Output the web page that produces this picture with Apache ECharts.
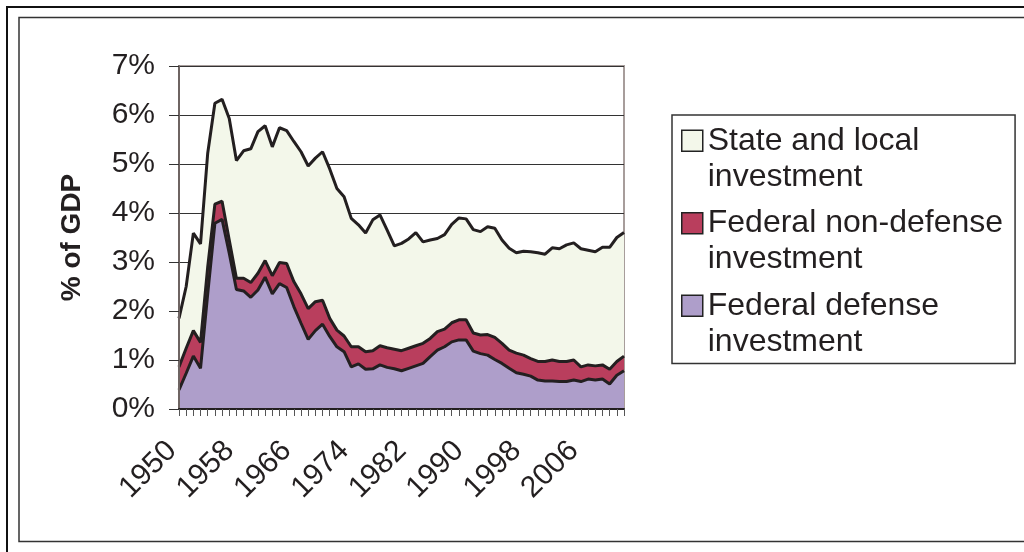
<!DOCTYPE html>
<html><head><meta charset="utf-8">
<script src="https://cdn.jsdelivr.net/npm/echarts@6/dist/echarts.min.js"></script>
<style>html,body{margin:0;padding:0;background:#fff}#c{width:1024px;height:552px}</style>
</head><body><div id="c"></div>
<script>
const years = ['1950','1951','1952','1953','1954','1955','1956','1957','1958','1959',
 '1960','1961','1962','1963','1964','1965','1966','1967','1968','1969',
 '1970','1971','1972','1973','1974','1975','1976','1977','1978','1979',
 '1980','1981','1982','1983','1984','1985','1986','1987','1988','1989',
 '1990','1991','1992','1993','1994','1995','1996','1997','1998','1999',
 '2000','2001','2002','2003','2004','2005','2006','2007','2008','2009',
 '2010','2011','2012'];
const federalDefense = [0.39,0.73,1.08,0.83,2.35,3.79,3.87,3.18,2.44,2.41,
 2.28,2.43,2.69,2.35,2.56,2.48,2.09,1.75,1.42,1.60,
 1.73,1.48,1.27,1.17,0.86,0.92,0.81,0.82,0.90,0.85,
 0.82,0.78,0.83,0.88,0.93,1.07,1.20,1.27,1.37,1.41,
 1.41,1.18,1.13,1.10,1.01,0.93,0.83,0.74,0.71,0.67,
 0.59,0.57,0.57,0.56,0.56,0.59,0.56,0.61,0.59,0.61,
 0.51,0.69,0.78];
const federalNonDefense = [0.47,0.51,0.52,0.53,0.55,0.39,0.37,0.27,0.23,0.26,
 0.30,0.34,0.34,0.37,0.43,0.49,0.51,0.60,0.63,0.59,
 0.49,0.37,0.34,0.32,0.41,0.35,0.36,0.37,0.39,0.40,
 0.40,0.41,0.41,0.41,0.41,0.37,0.38,0.36,0.39,0.41,
 0.41,0.37,0.38,0.42,0.45,0.41,0.37,0.40,0.39,0.36,
 0.38,0.40,0.43,0.41,0.41,0.41,0.30,0.29,0.29,0.29,
 0.30,0.28,0.30];
const stateLocal = [0.99,1.26,1.99,2.01,2.32,2.06,2.08,2.48,2.40,2.60,
 2.73,2.89,2.75,2.63,2.75,2.71,2.86,2.90,2.91,2.93,
 3.03,3.05,2.89,2.84,2.62,2.49,2.42,2.67,2.67,2.40,
 2.11,2.19,2.23,2.31,2.07,2.01,1.90,1.93,2.01,2.08,
 2.06,2.11,2.11,2.20,2.23,2.11,2.08,2.05,2.12,2.18,
 2.22,2.19,2.29,2.30,2.38,2.39,2.41,2.34,2.33,2.40,
 2.49,2.53,2.52];
const seriesNames = ['Federal defense investment','Federal non-defense investment','State and local investment'];
const legendLabels = {
 'State and local investment':'State and local\ninvestment',
 'Federal non-defense investment':'Federal non-defense\ninvestment',
 'Federal defense investment':'Federal defense\ninvestment'
};
const yTicks = [0,1,2,3,4,5,6,7];

const FONT = '"Liberation Sans", Arial, sans-serif';
const TXT = '#231F20';
const colors = ['#AE9ECA','#B93E5D','#F3F7EA'];
const values = [federalDefense, federalNonDefense, stateLocal];

const chart = echarts.init(document.getElementById('c'), null, {renderer:'canvas'});
chart.setOption({
 backgroundColor:'#fff',
 animation:false,
 textStyle:{fontFamily:FONT},
 graphic:[
  {type:'rect', z:-10, shape:{x:7,y:7,width:1040,height:570}, style:{fill:'none',stroke:'#111',lineWidth:2}},
  {type:'rect', z:-10, shape:{x:19,y:17.5,width:1030,height:524}, style:{fill:'none',stroke:'#333',lineWidth:1.5}}
 ],
 grid:{left:179,right:400,top:66,bottom:143,show:true,borderColor:'#a79d9b',borderWidth:2,backgroundColor:'transparent'},
 legend:{
  orient:'vertical', left:672, top:115,
  data:['State and local investment','Federal non-defense investment','Federal defense investment'],
  formatter:n=>legendLabels[n],
  icon:'path://M0,7.5H21V28.5H0Z M0,0 M0,72',
  itemWidth:21, itemHeight:72, itemGap:9,
  padding:[7,12,3,9],
  backgroundColor:'#fff', borderColor:'#333', borderWidth:1.5,
  itemStyle:{borderColor:'#222',borderWidth:1.5},
  textStyle:{fontFamily:FONT,fontSize:32,lineHeight:36,color:TXT},
  selectedMode:false
 },
 xAxis:{
  type:'category', data:years, boundaryGap:false, z:10,
  axisLine:{lineStyle:{color:TXT,width:2}},
  axisTick:{show:true,interval:0,length:7,lineStyle:{color:'#555',width:1}},
  axisLabel:{interval:7,rotate:45,margin:30,padding:[0,10,0,0],fontSize:30,color:TXT,fontFamily:FONT},
  splitLine:{show:false}
 },
 yAxis:[{
  type:'value', min:yTicks[0], max:yTicks[yTicks.length-1], interval:1, z:10,
  name:'% of GDP', nameLocation:'middle', nameRotate:90, nameGap:93,
  nameTextStyle:{fontSize:28,fontWeight:'bold',color:TXT,fontFamily:FONT},
  axisLine:{show:true,lineStyle:{color:'#6e6462',width:2}},
  axisTick:{show:true,inside:false,length:10,lineStyle:{color:'#333',width:1}},
  axisLabel:{formatter:'{value}%',fontSize:30,color:TXT,margin:24,fontFamily:FONT},
  splitLine:{show:false}
 },{
  type:'value', min:yTicks[0], max:yTicks[yTicks.length-1], interval:1, z:0,
  axisLine:{show:false}, axisTick:{show:false}, axisLabel:{show:false},
  splitLine:{show:true,lineStyle:{color:'#333',width:1}}
 }],
 series: seriesNames.map((name,i)=>({
  name, type:'line', stack:'total', data:values[i], yAxisIndex:0,
  z: 4-i, symbol:'none', smooth:false,
  lineStyle:{color:TXT,width:3},
  itemStyle:{color:colors[i]},
  areaStyle:{color:colors[i],opacity:1},
  emphasis:{disabled:true}
 }))
});
</script></body></html>
